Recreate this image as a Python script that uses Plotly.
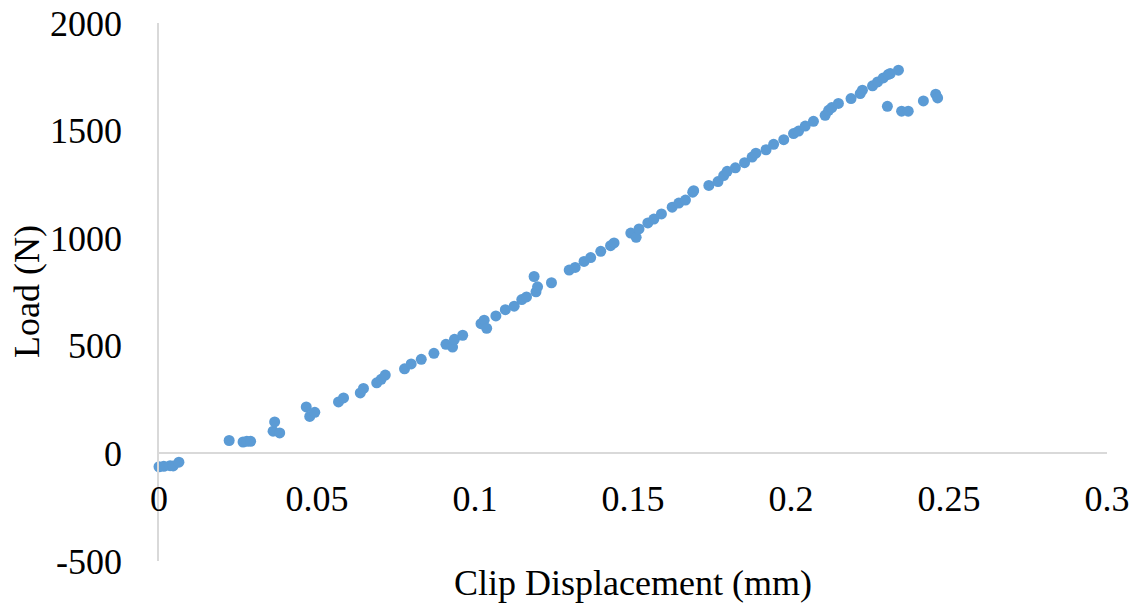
import plotly.graph_objects as go

clip_disp_mm = [0.000, 0.0015, 0.0035, 0.0045, 0.0063, 0.0222, 0.0266, 0.0278, 0.0290,
                0.0361, 0.0366, 0.0382, 0.0466, 0.0477, 0.0493, 0.0568, 0.0584, 0.0637,
                0.0647, 0.0689, 0.0703, 0.0716, 0.0777, 0.0798, 0.0830, 0.0870, 0.0908,
                0.0929, 0.0935, 0.0961, 0.1019, 0.1029, 0.1037, 0.1066, 0.1096, 0.1124,
                0.1148, 0.1163, 0.1187, 0.1193, 0.1198, 0.1242, 0.1298, 0.1317, 0.1345,
                0.1366, 0.1398, 0.1429, 0.1440, 0.1493, 0.1510, 0.1519, 0.1547, 0.1566,
                0.1590, 0.1624, 0.1645, 0.1666, 0.1689, 0.1692, 0.1740, 0.1769, 0.1787,
                0.1798, 0.1824, 0.1853, 0.1877, 0.1889, 0.1921, 0.1945, 0.1977, 0.2008,
                0.2024, 0.2045, 0.2071, 0.2108, 0.2119, 0.2129, 0.2150, 0.2190, 0.2219,
                0.2226, 0.2258, 0.2274, 0.2292, 0.2308, 0.2314, 0.2340, 0.2305, 0.2350,
                0.2371, 0.2419, 0.2458, 0.2464]

load_n = [-62, -60, -57, -58, -41, 60, 53, 56, 56,
          103, 146, 95, 216, 172, 191, 239, 258, 281,
          302, 328, 344, 364, 393, 416, 437, 465, 507,
          494, 530, 549, 603, 619, 581, 639, 668, 684,
          715, 727, 822, 751, 774, 793, 852, 864, 892,
          910, 939, 965, 978, 1024, 1004, 1043, 1071, 1089,
          1113, 1144, 1163, 1177, 1214, 1221, 1245, 1263, 1291,
          1311, 1327, 1351, 1377, 1395, 1411, 1436, 1458, 1486,
          1498, 1521, 1543, 1571, 1594, 1607, 1626, 1649, 1672,
          1688, 1708, 1726, 1745, 1761, 1765, 1781, 1613, 1590,
          1590, 1638, 1669, 1652]

x_ticks = [0, 0.05, 0.1, 0.15, 0.2, 0.25, 0.3]
x_tick_labels = ["0", "0.05", "0.1", "0.15", "0.2", "0.25", "0.3"]
y_ticks = [-500, 0, 500, 1000, 1500, 2000]
y_tick_labels = ["-500", "0", "500", "1000", "1500", "2000"]

FONT = "Liberation Serif, Times New Roman, serif"
AXIS_COLOR = "#D9D9D9"

fig = go.Figure()
fig.add_trace(go.Scatter(
    x=clip_disp_mm, y=load_n, mode="markers",
    marker=dict(color="#5B9BD5", size=11),
    cliponaxis=False, showlegend=False,
))

fig.update_layout(
    width=1141, height=609,
    margin=dict(l=159, r=34, t=23, b=48, autoexpand=False),
    plot_bgcolor="white", paper_bgcolor="white",
    font=dict(family=FONT, size=36, color="black"),
    xaxis=dict(
        range=[0, 0.3], tickvals=x_ticks, ticktext=x_tick_labels, automargin=False,
        showgrid=False, zeroline=False, showline=True, linecolor=AXIS_COLOR, linewidth=1.5,
        anchor="free", position=0.2, ticks="", ticklabelstandoff=14,
        tickfont=dict(family=FONT, size=36, color="black"),
    ),
    yaxis=dict(
        range=[-500, 2000], tickvals=y_ticks, ticktext=y_tick_labels, automargin=False,
        showgrid=False, zeroline=False, showline=True, linecolor=AXIS_COLOR, linewidth=1.5,
        ticks="", ticklabelstandoff=28,
        tickfont=dict(family=FONT, size=36, color="black"),
    ),
    annotations=[
        dict(text="Clip Displacement (mm)", xref="paper", yref="paper", x=0.5, y=0,
             yshift=-22, showarrow=False, xanchor="center", yanchor="middle",
             font=dict(family=FONT, size=36, color="black")),
        dict(text="Load (N)", xref="paper", yref="paper", x=0, y=0.5, xshift=-132,
             showarrow=False, textangle=-90, xanchor="center", yanchor="middle",
             font=dict(family=FONT, size=36, color="black")),
    ],
)

fig.write_html("out.html", config={"displayModeBar": False},
               post_script="document.body.style.margin='0';")
